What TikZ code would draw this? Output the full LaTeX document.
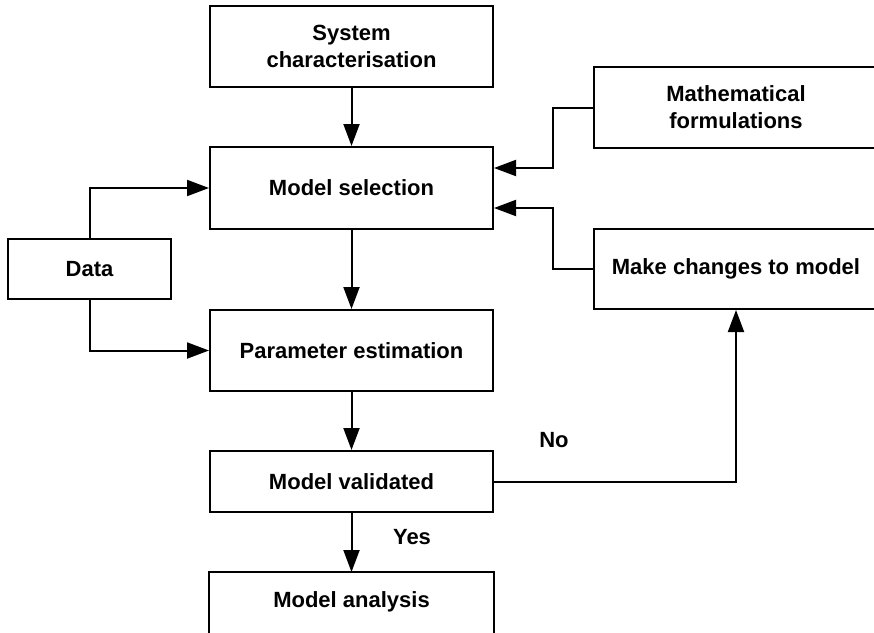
\documentclass[tikz,border=0pt]{standalone}
\usepackage{fontspec}
\setmainfont{Liberation Sans}
\usetikzlibrary{arrows.meta}
\begin{document}
\begin{tikzpicture}[x=1pt, y=-1pt, line width=2pt,
  box/.style={draw, rectangle, align=center, inner sep=0pt,
    font=\bfseries\fontsize{22}{27}\selectfont},
  lbl/.style={font=\bfseries\fontsize{22}{27}\selectfont},
  arr/.style={-{Triangle[length=22pt, width=16pt]}}]
  % fixed canvas
  \useasboundingbox (0,0) rectangle (874,632);

  % main column
  \node[box, minimum width=283pt, minimum height=81pt] (sys)   at (351.5,46.5) {System\\characterisation};
  \node[box, minimum width=283pt, minimum height=82pt] (msel)  at (351.5,188)  {Model selection};
  \node[box, minimum width=283pt, minimum height=81pt] (param) at (351.5,350.5) {Parameter estimation};
  \node[box, minimum width=283pt, minimum height=61pt] (mval)  at (351.5,481.5) {Model validated};
  % last box runs past the lower edge of the page
  \node[box, draw=none, minimum width=283pt, minimum height=58pt] (mana) at (351.5,602) {Model analysis};
  \draw ([yshift=-12pt]mana.south west) rectangle (mana.north east);

  % side boxes
  \node[box, minimum width=163pt, minimum height=60pt] (data)  at (89.5,269)  {Data};
  \node[box, minimum width=284pt, minimum height=81pt] (math)  at (736,107.5) {Mathematical\\formulations};
  \node[box, minimum width=284pt, minimum height=80pt] (mchg)  at (736,269)   {Make changes to model};

  % main flow
  \draw[arr] (sys)   -- (msel);
  \draw[arr] (msel)  -- (param);
  \draw[arr] (param) -- (mval);
  \draw[arr] (mval)  -- (mana);

  % data feeds
  \draw[arr] (data.north) |- (msel.west);
  \draw[arr] (data.south) |- (param.west);

  % inputs to model selection
  \draw[arr] (math.west) -- ++(-40,0) |- ([yshift=20pt]msel.east);
  \draw[arr] (mchg.west) -- ++(-40,0) |- ([yshift=-20pt]msel.east);

  % validation loop
  \draw[arr] (mval.east) -| (mchg.south);

  % decision labels
  \node[lbl] (yes) at (412,537) {Yes};
  \node[lbl] (no)  at (554,440) {No};
\end{tikzpicture}
\end{document}
